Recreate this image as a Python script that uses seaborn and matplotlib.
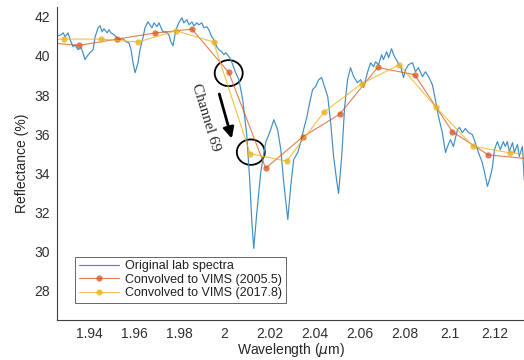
import numpy as np
import pandas as pd
import matplotlib
matplotlib.use("Agg")
import matplotlib.pyplot as plt
import seaborn as sns
from matplotlib.patches import Ellipse
from matplotlib.ticker import FormatStrFormatter

# Original lab spectrum (wavelength in um, reflectance in %)
lab_wl = [1.9263, 1.9276, 1.9285, 1.9294, 1.9307, 1.9316, 1.9329, 1.9338, 1.9351, 1.9365,
          1.9373, 1.9382, 1.9396, 1.9404, 1.9418, 1.9427, 1.9440, 1.9449, 1.9458, 1.9466,
          1.9480, 1.9489, 1.9497, 1.9511, 1.9524, 1.9533, 1.9550, 1.9564, 1.9577, 1.9586,
          1.9595, 1.9604, 1.9617, 1.9626, 1.9639, 1.9648, 1.9661, 1.9670, 1.9679, 1.9688,
          1.9701, 1.9710, 1.9719, 1.9727, 1.9741, 1.9754, 1.9763, 1.9772, 1.9785, 1.9798,
          1.9812, 1.9820, 1.9834, 1.9843, 1.9856, 1.9865, 1.9878, 1.9887, 1.9900, 1.9909,
          1.9922, 1.9931, 1.9944, 1.9953, 1.9966, 1.9975, 1.9989, 1.9997, 2.0006, 2.0020,
          2.0028, 2.0037, 2.0050, 2.0064, 2.0081, 2.0099, 2.0112, 2.0121, 2.0130, 2.0143,
          2.0161, 2.0183, 2.0205, 2.0219, 2.0236, 2.0250, 2.0263, 2.0281, 2.0294, 2.0307,
          2.0325, 2.0338, 2.0351, 2.0365, 2.0378, 2.0391, 2.0404, 2.0418, 2.0431, 2.0444,
          2.0458, 2.0471, 2.0484, 2.0497, 2.0506, 2.0520, 2.0533, 2.0546, 2.0559, 2.0573,
          2.0590, 2.0604, 2.0617, 2.0635, 2.0648, 2.0661, 2.0670, 2.0683, 2.0697, 2.0705,
          2.0719, 2.0728, 2.0741, 2.0750, 2.0767, 2.0781, 2.0794, 2.0803, 2.0816, 2.0834,
          2.0847, 2.0860, 2.0878, 2.0891, 2.0905, 2.0922, 2.0935, 2.0949, 2.0966, 2.0980,
          2.0989, 2.1002, 2.1015, 2.1033, 2.1042, 2.1055, 2.1068, 2.1082, 2.1099, 2.1112,
          2.1126, 2.1143, 2.1157, 2.1166, 2.1179, 2.1188, 2.1197, 2.1210, 2.1223, 2.1236,
          2.1245, 2.1254, 2.1263, 2.1277, 2.1285, 2.1299, 2.1307, 2.1321, 2.1329, 2.1334]
lab_refl = [41.03, 41.08, 41.18, 40.98, 41.18, 40.83, 40.47, 40.57, 40.32, 40.42,
            40.16, 39.81, 40.06, 40.16, 40.32, 40.98, 41.44, 41.54, 41.23, 41.39,
            41.18, 41.34, 41.18, 41.08, 40.93, 40.83, 40.88, 40.72, 40.67, 40.32,
            39.65, 39.14, 39.65, 40.32, 40.93, 41.44, 41.74, 41.59, 41.44, 41.69,
            41.49, 41.69, 41.44, 41.23, 41.23, 41.08, 40.72, 40.52, 41.34, 41.69,
            41.95, 41.69, 41.85, 41.59, 41.74, 41.54, 41.69, 41.59, 41.69, 41.44,
            41.49, 41.34, 40.98, 40.83, 40.47, 40.32, 40.21, 40.06, 40.16, 39.96,
            39.81, 39.55, 39.14, 38.79, 37.77, 35.98, 33.68, 31.64, 30.16, 31.90,
            34.04, 35.57, 36.23, 36.74, 36.23, 35.21, 33.53, 31.64, 33.33, 34.70,
            35.06, 35.57, 36.23, 36.85, 37.61, 38.28, 38.43, 38.79, 38.89, 38.43,
            37.92, 36.59, 34.86, 33.68, 32.97, 34.86, 37.41, 38.79, 39.40, 38.94,
            38.63, 38.79, 38.38, 39.19, 39.65, 39.45, 39.70, 39.55, 40.06, 39.81,
            40.21, 39.91, 40.37, 40.06, 39.70, 39.45, 38.89, 39.30, 39.55, 39.65,
            39.19, 39.40, 38.94, 39.19, 38.94, 38.53, 37.77, 36.90, 36.08, 35.06,
            35.37, 35.72, 35.37, 36.23, 36.34, 36.08, 36.29, 36.08, 35.98, 35.57,
            35.06, 34.55, 33.84, 33.33, 33.84, 34.30, 35.21, 35.62, 35.21, 35.62,
            35.37, 35.62, 35.11, 35.57, 35.06, 35.47, 34.86, 35.37, 33.68, 33.43]

# Convolved to VIMS (2005.5)
vims05_wl = [1.9192, 1.9356, 1.9524, 1.9692, 1.9856, 2.0019, 2.0183, 2.0347, 2.0511,
             2.0679, 2.0843, 2.1011, 2.1170, 2.1340]
vims05_refl = [40.70, 40.54, 40.86, 41.17, 41.37, 39.16, 34.26, 35.86, 37.02,
               39.41, 39.04, 36.12, 34.94, 34.75]

# Convolved to VIMS (2017.8)
vims17_wl = [1.9123, 1.9288, 1.9453, 1.9618, 1.9785, 1.9952, 2.0114, 2.0276, 2.0441,
             2.0608, 2.0775, 2.0938, 2.1102, 2.1264, 2.1429]
vims17_refl = [40.80, 40.86, 40.86, 40.71, 41.29, 40.71, 35.01, 34.62, 37.12,
               38.58, 39.55, 37.37, 35.38, 35.05, 34.90]

lab_df = pd.DataFrame({"wl": lab_wl, "refl": lab_refl})
v05_df = pd.DataFrame({"wl": vims05_wl, "refl": vims05_refl})
v17_df = pd.DataFrame({"wl": vims17_wl, "refl": vims17_refl})

sns.set_style("white")
plt.rcParams["font.family"] = ["Liberation Sans", "DejaVu Sans"]
plt.rcParams["mathtext.fontset"] = "dejavusans"

fig = plt.figure(figsize=(5.24, 3.6), dpi=100)
ax = fig.add_axes([0.1088, 0.1111, 0.8912, 0.8694])

blue = "#3f8ec6"
red = "#d95319"
yellow = "#edb120"

sns.lineplot(data=lab_df, x="wl", y="refl", ax=ax, color=blue, lw=0.85,
             sort=False, estimator=None, label="Original lab spectra")
sns.lineplot(data=v05_df, x="wl", y="refl", ax=ax, color=red, lw=0.8, alpha=0.75,
             sort=False, estimator=None, marker="o", markersize=4.5,
             markeredgewidth=0, label="Convolved to VIMS (2005.5)")
sns.lineplot(data=v17_df, x="wl", y="refl", ax=ax, color=yellow, lw=0.8, alpha=0.8,
             sort=False, estimator=None, marker="o", markersize=4.5,
             markeredgewidth=0, label="Convolved to VIMS (2017.8)")

# channel 69 annotation
ax.add_patch(Ellipse((2.0019, 39.12), 0.0124, 1.33, fill=False, ec="black", lw=1.3))
ax.add_patch(Ellipse((2.0117, 35.08), 0.0124, 1.30, fill=False, ec="black", lw=1.3))
ax.annotate("", xy=(2.0036, 35.64), xytext=(1.9974, 38.19),
            arrowprops=dict(arrowstyle="-|>", lw=2.0, color="black", mutation_scale=16))
ax.text(1.9918, 36.85, "Channel 69", rotation=-73, ha="center", va="center",
        fontsize=11, family=["Liberation Serif", "DejaVu Serif"])

ax.set_xlim(1.9258, 2.1328)
ax.set_ylim(26.5, 42.5)
ax.set_xticks(np.arange(1.94, 2.121, 0.02))
ax.set_yticks(np.arange(28, 43, 2))
ax.xaxis.set_major_formatter(FormatStrFormatter("%g"))
ax.set_xlabel(r"Wavelength ($\mu$m)", fontsize=10, color="#262626", labelpad=0)
ax.set_ylabel("Reflectance (%)", fontsize=10, color="#262626", labelpad=4)

for side in ["top", "right"]:
    ax.spines[side].set_visible(False)
for side in ["left", "bottom"]:
    ax.spines[side].set_color("#404040")
    ax.spines[side].set_linewidth(0.8)
ax.tick_params(direction="in", length=3, width=0.7, color="#404040",
               labelsize=10, labelcolor="#303030", pad=5)

leg = ax.legend(loc="lower left", bbox_to_anchor=(0.0385, 0.054), borderaxespad=0,
                fontsize=9, frameon=True, fancybox=False, edgecolor="#404040",
                handlelength=3.2, handletextpad=0.5, labelspacing=0.12, borderpad=0.3)
leg.get_frame().set_linewidth(0.7)
for t in leg.get_texts():
    t.set_color("#202020")

fig.savefig("out.png", dpi=100)
